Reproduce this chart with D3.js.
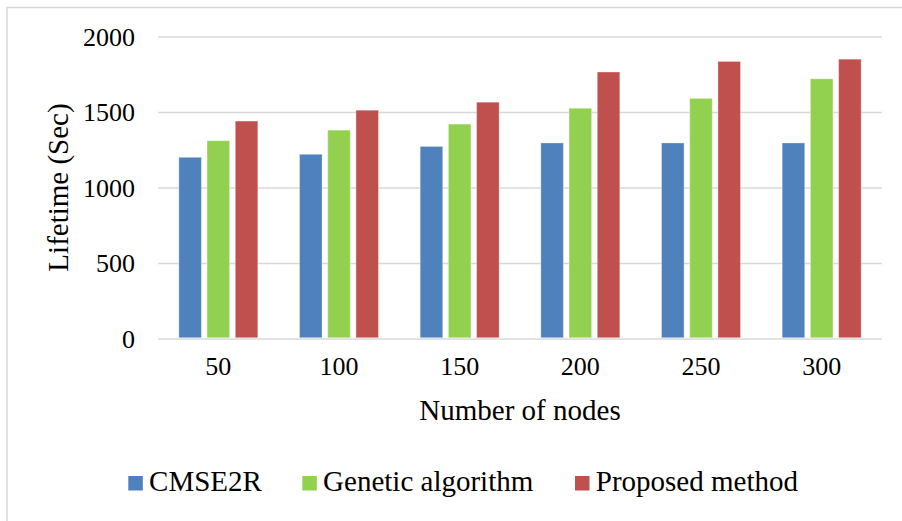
<!DOCTYPE html>
<html>
<head>
<meta charset="utf-8">
<script src="https://cdn.jsdelivr.net/npm/d3@7"></script>
<style>
  html, body { margin: 0; padding: 0; background: #fff; }
  svg { display: block; }
  text { font-family: "Liberation Serif", "Times New Roman", serif; fill: #000; }
</style>
</head>
<body>
<svg id="chart" width="902" height="521"></svg>
<script>
// Network lifetime per number of nodes
const categories = ["50", "100", "150", "200", "250", "300"];
const seriesNames = ["CMSE2R", "Genetic algorithm", "Proposed method"];
const cmse2r = [1200, 1220, 1272, 1295, 1295, 1295];
const genetic = [1310, 1380, 1420, 1525, 1590, 1720];
const proposed = [1440, 1512, 1565, 1765, 1835, 1850];
const yTicks = [0, 500, 1000, 1500, 2000];
const colors = ["#4f81bd", "#92d050", "#c0504d"];

const seriesValues = [cmse2r, genetic, proposed];
const serif = '"Liberation Serif", "Times New Roman", serif';

const svg = d3.select("#chart");
const W = 902, H = 521;
const plot = { left: 158, right: 882, top: 36.5, bottom: 338.5 };

// Chart frame
svg.append("path")
  .attr("d", `M${W},7.5 H7 V${H}`)
  .attr("fill", "none")
  .attr("stroke", "#d9d9d9")
  .attr("stroke-width", 1.5);

const x0 = d3.scaleBand()
  .domain(categories)
  .range([plot.left, plot.right])
  .paddingInner(0)
  .paddingOuter(0);

const x1 = d3.scaleBand()
  .domain(seriesNames)
  .range([x0.bandwidth() / 2 - 39.5, x0.bandwidth() / 2 + 39.5])
  .paddingInner(0.2)
  .paddingOuter(0);

const y = d3.scaleLinear().domain([0, 2000]).range([plot.bottom, plot.top]);

// Gridlines and value labels
const yAxis = d3.axisLeft(y)
  .tickValues(yTicks)
  .tickFormat(d3.format("d"))
  .tickSize(-(plot.right - plot.left))
  .tickPadding(23);
const gy = svg.append("g")
  .attr("transform", `translate(${plot.left},0)`)
  .call(yAxis)
  .attr("font-family", serif);
gy.select(".domain").remove();
gy.selectAll(".tick line").attr("stroke", "#d9d9d9").attr("stroke-width", 1.5);
gy.selectAll(".tick text")
  .attr("font-size", 26)
  .attr("dy", "0.34em")
  .attr("fill", "#000");

// Bars
const groups = svg.append("g").selectAll("g")
  .data(categories)
  .join("g")
  .attr("transform", d => `translate(${x0(d)},0)`);

groups.selectAll("rect")
  .data((c, i) => seriesNames.map((s, k) => ({ s, k, v: seriesValues[k][i] })))
  .join("rect")
  .attr("x", d => x1(d.s))
  .attr("width", x1.bandwidth())
  .attr("y", d => y(d.v))
  .attr("height", d => y(0) - y(d.v) - 0.75)
  .attr("fill", d => colors[d.k])
  .attr("stroke", "#ffffff")
  .attr("stroke-opacity", 0.35)
  .attr("stroke-width", 1);

// Category labels
const xAxis = d3.axisBottom(x0).tickSize(0).tickPadding(18);
const gx = svg.append("g")
  .attr("transform", `translate(0,${plot.bottom})`)
  .call(xAxis)
  .attr("font-family", serif);
gx.select(".domain").remove();
gx.selectAll(".tick text")
  .attr("font-size", 26)
  .attr("fill", "#000");

// Axis titles
svg.append("text")
  .attr("x", (plot.left + plot.right) / 2)
  .attr("y", 419.5)
  .attr("text-anchor", "middle")
  .attr("font-size", 29)
  .text("Number of nodes");

svg.append("text")
  .attr("transform", `translate(68,${(plot.top + plot.bottom) / 2}) rotate(-90)`)
  .attr("text-anchor", "middle")
  .attr("font-size", 29)
  .text("Lifetime (Sec)");

// Legend
const legendX = [128.3, 302.3, 575];
const legend = svg.append("g").selectAll("g")
  .data(seriesNames)
  .join("g")
  .attr("transform", (d, i) => `translate(${legendX[i]},0)`);
legend.append("rect")
  .attr("x", 0).attr("y", 476)
  .attr("width", 14.5).attr("height", 14.5)
  .attr("fill", (d, i) => colors[i]);
legend.append("text")
  .attr("x", 20.8).attr("y", 490.5)
  .attr("font-size", 29)
  .text(d => d);
</script>
</body>
</html>
